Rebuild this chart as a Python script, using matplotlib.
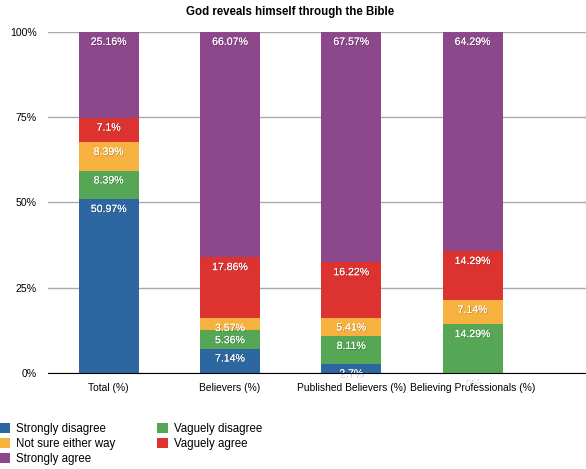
import numpy as np
import matplotlib
matplotlib.use("Agg")
import matplotlib.pyplot as plt
import matplotlib.patheffects as pe

# data (percent)
categories = ["Total (%)", "Believers (%)", "Published Believers (%)", "Believing Professionals (%)"]
strongly_disagree = [50.97, 7.14, 2.7, 0]
vaguely_disagree = [8.39, 5.36, 8.11, 14.29]
not_sure = [8.39, 3.57, 5.41, 7.14]
vaguely_agree = [7.1, 17.86, 16.22, 14.29]
strongly_agree = [25.16, 66.07, 67.57, 64.29]

series = [
    ("Strongly disagree", strongly_disagree, "#2D67A1"),
    ("Vaguely disagree", vaguely_disagree, "#55A655"),
    ("Not sure either way", not_sure, "#F6B13F"),
    ("Vaguely agree", vaguely_agree, "#DD3330"),
    ("Strongly agree", strongly_agree, "#8D488B"),
]

plt.rcParams["font.family"] = ["Liberation Sans", "DejaVu Sans"]

fig = plt.figure(figsize=(5.86, 4.69), dpi=100)
ax = fig.add_axes([48 / 586, 1 - 373 / 469, 1 - 48 / 586, (373 - 32) / 469])

x = np.arange(len(categories))
bottom = np.zeros(len(categories))
shadow = [pe.withSimplePatchShadow(offset=(0.5, -0.5), shadow_rgbFace="black", alpha=0.3), pe.Normal()]
handles = {}
for name, vals, col in series:
    vals = np.array(vals, dtype=float)
    b = ax.bar(x, vals, 0.495, bottom=bottom, color=col, zorder=2)
    handles[name] = b
    tops = bottom + vals
    for xi, t, v in zip(x, tops, vals):
        ax.annotate(f"{v:g}%", (xi, t), xytext=(0, -3.5), textcoords="offset points",
                    ha="center", va="top", color="white", fontsize=7.6,
                    path_effects=shadow, zorder=3, annotation_clip=False)
    bottom = tops

ax.set_ylim(0, 100)
ax.set_xlim(-0.5, (586 - 48) / 121.3 - 0.5)
ax.set_yticks([0, 25, 50, 75, 100])
ax.set_yticklabels(["0%", "25%", "50%", "75%", "100%"], fontsize=7.6)
ax.set_xticks(x)
ax.set_xticklabels(categories, fontsize=7.4)
ax.tick_params(length=0)
ax.tick_params(axis="x", pad=7)
ax.tick_params(axis="y", pad=8)
ax.grid(axis="y", color="#aaaaaa", linewidth=1, zorder=0)
for s in ["top", "right", "left"]:
    ax.spines[s].set_visible(False)
ax.spines["bottom"].set_color("black")
ax.spines["bottom"].set_zorder(4)

fig.text(290 / 586, 1 - 12 / 469, "God reveals himself through the Bible",
         ha="center", va="center", fontsize=8.3, fontweight="bold")

order = ["Strongly disagree", "Not sure either way", "Strongly agree",
         "Vaguely disagree", "Vaguely agree"]
fig.legend([handles[n] for n in order], order, ncol=2, loc="upper left",
           bbox_to_anchor=(-0.01, 1 - 418 / 469), frameon=False, fontsize=8.3,
           handlelength=1.0, handleheight=1.0, handletextpad=0.5,
           labelspacing=0.25, columnspacing=3.6, borderaxespad=0)

fig.savefig("out.png", dpi=100)
